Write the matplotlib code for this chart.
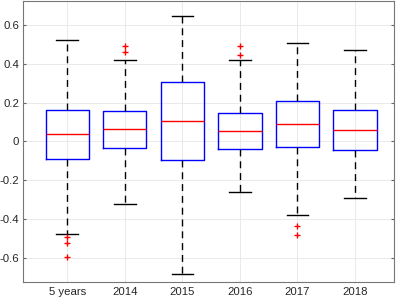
import matplotlib.pyplot as plt

plt.rcParams['font.family'] = ['Liberation Sans', 'DejaVu Sans']
plt.rcParams['font.size'] = 8.2

labels = ['5 years', '2014', '2015', '2016', '2017', '2018']
whislo = [-0.479, -0.322, -0.685, -0.260, -0.378, -0.290]
q1 = [-0.093, -0.033, -0.096, -0.038, -0.028, -0.045]
med = [0.038, 0.065, 0.105, 0.053, 0.088, 0.057]
q3 = [0.161, 0.158, 0.307, 0.149, 0.208, 0.161]
whishi = [0.526, 0.421, 0.645, 0.419, 0.507, 0.471]
fliers = [
    [-0.491, -0.526, -0.598],
    [0.495, 0.462],
    [],
    [0.491, 0.445],
    [-0.438, -0.483],
    [],
]

stats = []
for i, lab in enumerate(labels):
    stats.append(dict(label=lab, whislo=whislo[i], q1=q1[i], med=med[i],
                      q3=q3[i], whishi=whishi[i], fliers=fliers[i]))

fig = plt.figure(figsize=(3.99, 2.99), dpi=100)
ax = fig.add_axes([0.058, 0.058, 0.930, 0.938])

ax.bxp(stats, positions=range(1, 7), widths=0.75, showfliers=True,
       boxprops=dict(color='blue', linewidth=1.0),
       medianprops=dict(color='red', linewidth=1.0),
       whiskerprops=dict(color='black', linewidth=1.0, linestyle=(0, (5, 3.5))),
       capprops=dict(color='black', linewidth=1.0),
       capwidths=0.375,
       flierprops=dict(marker='+', markeredgecolor='red', markersize=4,
                       markeredgewidth=1.0, linestyle='none'))

ax.set_xlim(0.235, 6.68)
ax.set_ylim(-0.724, 0.724)
ax.set_yticks([-0.6, -0.4, -0.2, 0, 0.2, 0.4, 0.6])
ax.set_yticklabels(['-0.6', '-0.4', '-0.2', '0', '0.2', '0.4', '0.6'])
ax.grid(True, color='#e6e6e6', linewidth=0.6)
ax.set_axisbelow(True)
ax.tick_params(direction='in', length=2.5, colors='#666666', labelcolor='#262626',
               right=True, top=False, pad=3)
ax.tick_params(axis='x', length=0, pad=4)
for s in ax.spines.values():
    s.set_color('#777777')
    s.set_linewidth(0.8)

fig.savefig('out.png', dpi=100)
